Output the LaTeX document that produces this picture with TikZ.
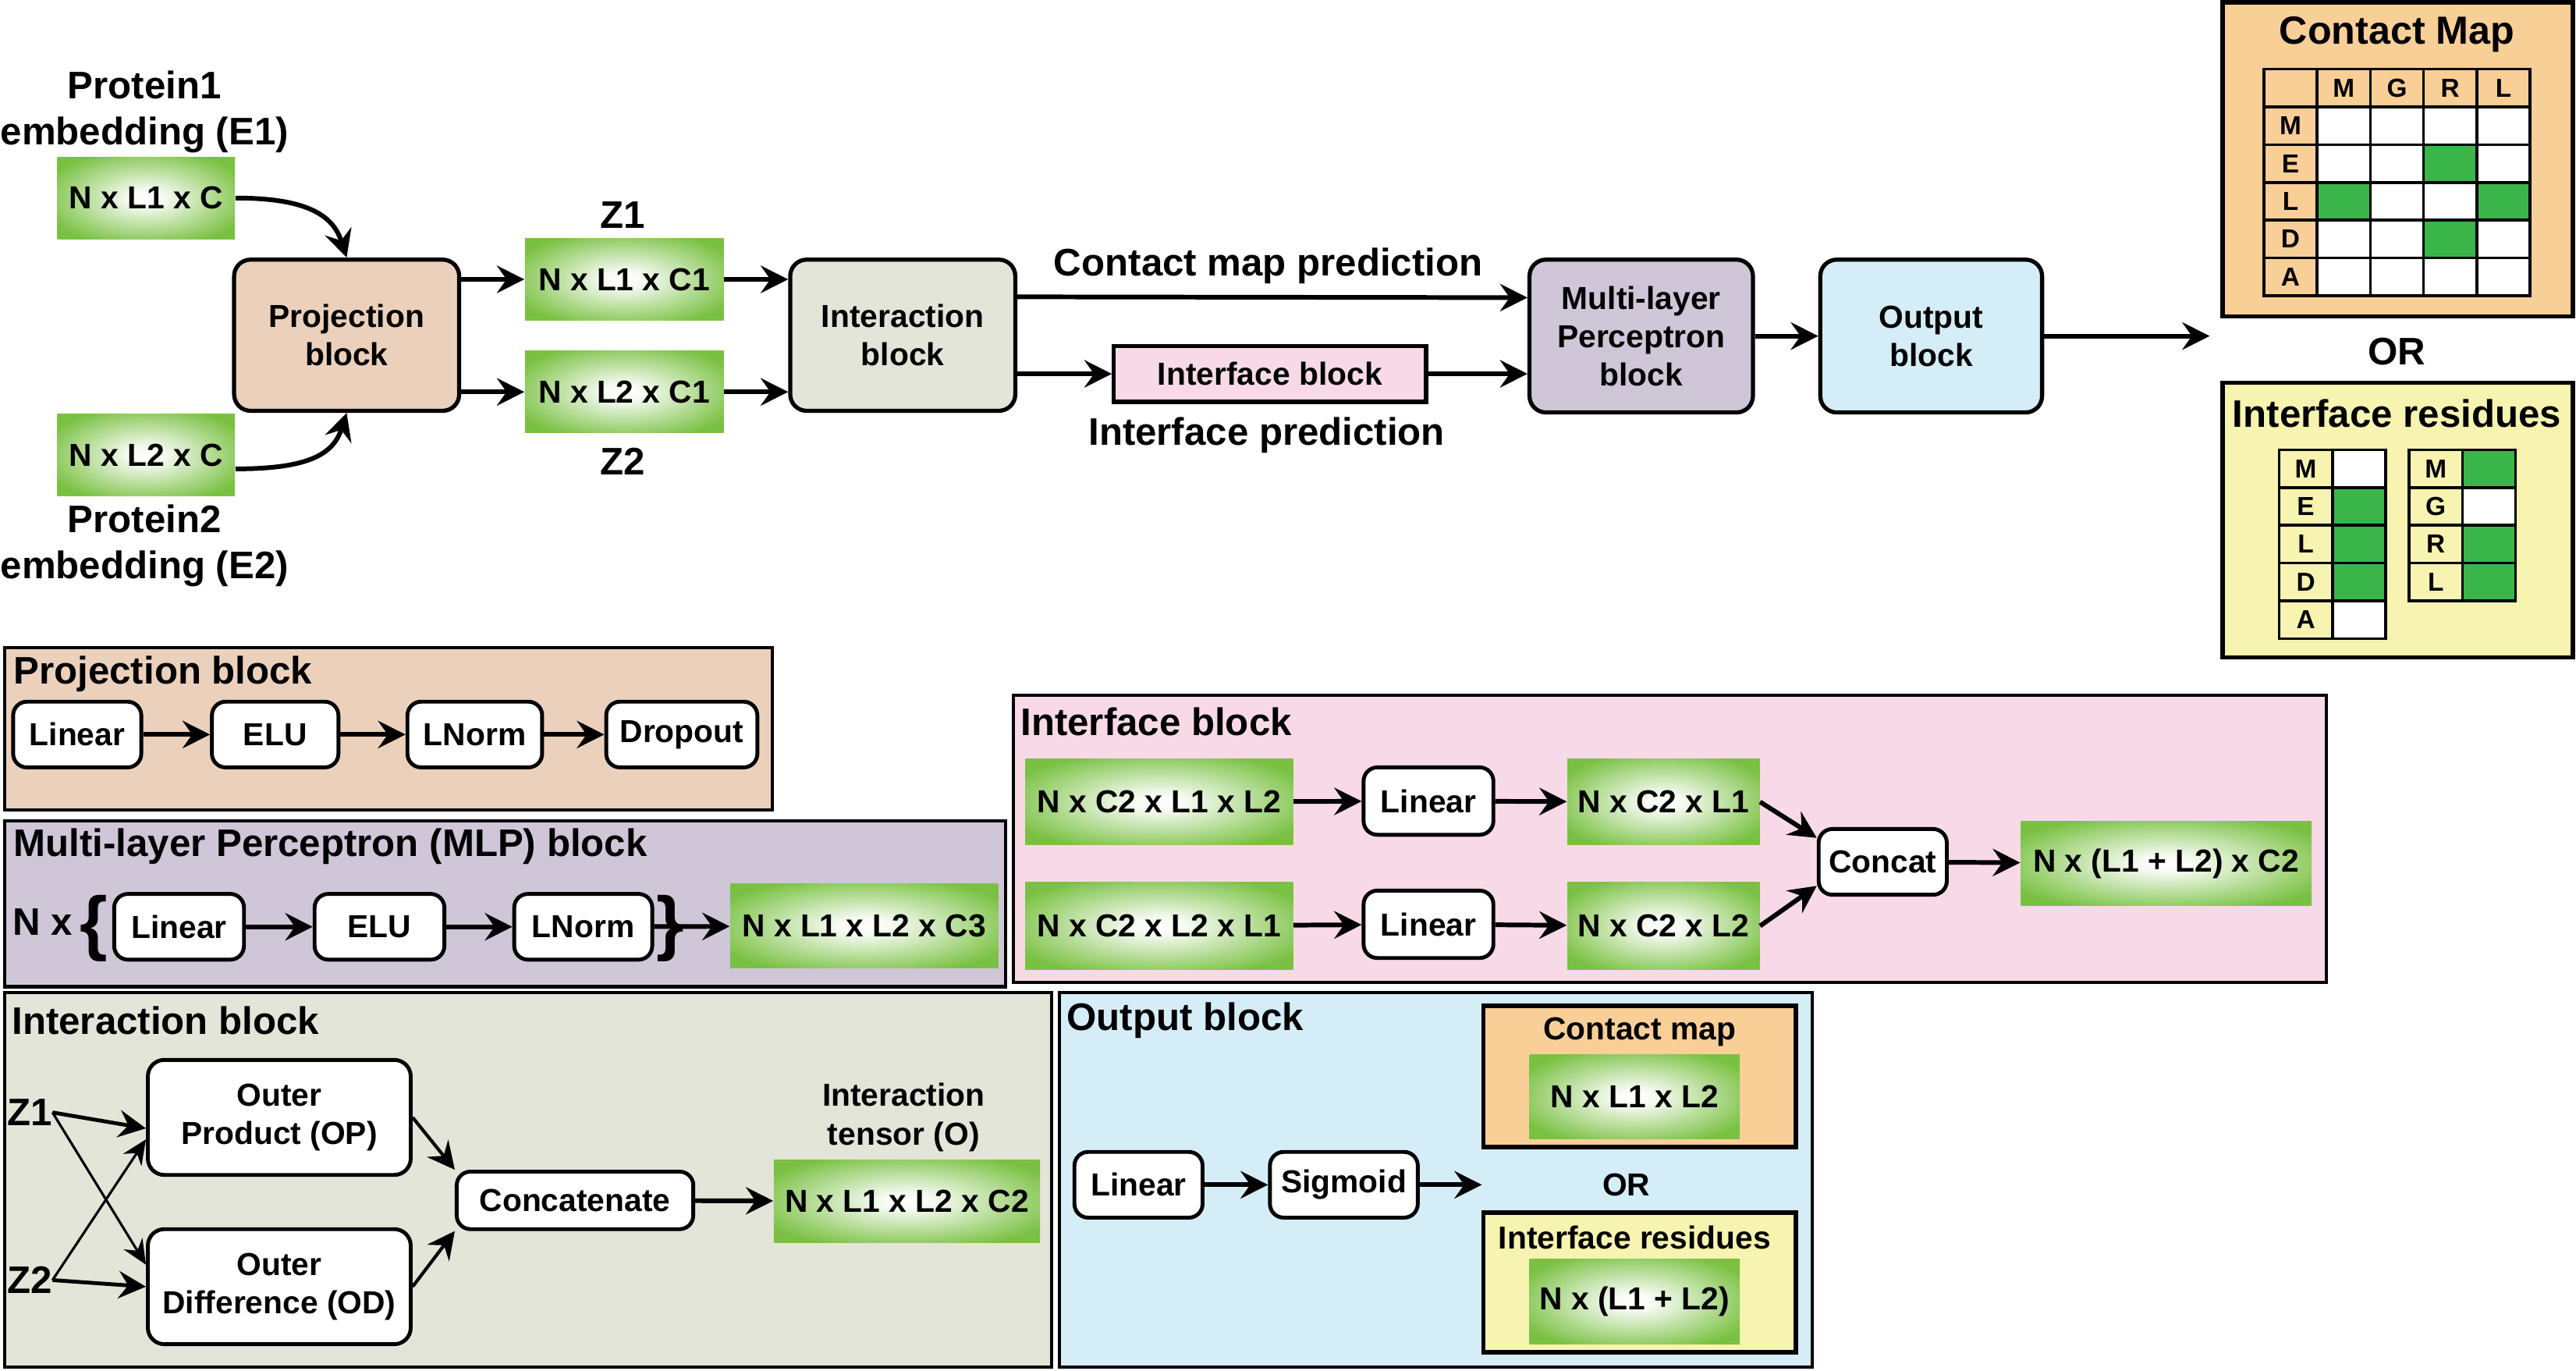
\documentclass[tikz,border=0pt]{standalone}
\usepackage{fontspec}
\setmainfont{Liberation Sans}
\usetikzlibrary{arrows.meta,positioning}

\definecolor{tgreen}{HTML}{7AC143}
\definecolor{cgreen}{HTML}{39B54A}
\definecolor{projc}{HTML}{EBD1BC}
\definecolor{interc}{HTML}{E4E5D9}
\definecolor{ifc}{HTML}{F7D9E8}
\definecolor{mlpc}{HTML}{CFC6D8}
\definecolor{outc}{HTML}{D5EDF7}
\definecolor{mapc}{HTML}{F9CF98}
\definecolor{resc}{HTML}{F7F3B0}
\pgfdeclareradialshading[tgreen]{tensorfill}{\pgfpoint{0bp}{0bp}}{color(0bp)=(white); color(5bp)=(white!93!tgreen); color(30bp)=(tgreen); color(50bp)=(tgreen)}
\newcommand\pxu{0.02106cm}
\newcommand\tabfont{\bfseries\fontsize{9.5}{11}\selectfont}

\begin{document}
\begin{tikzpicture}[x=\pxu,y=-\pxu,
  font=\bfseries\fontsize{11.6}{14}\selectfont,
  sz/.style 2 args={minimum width=#1*\pxu, minimum height=#2*\pxu},
  blk/.style={draw, line width=1.5pt, rounded corners=6pt, align=center, inner sep=0pt},
  opbox/.style={draw, fill=white, line width=1.4pt, rounded corners=5pt, align=center, inner sep=0pt},
  tensor/.style={shading=tensorfill, inner sep=0pt},
  panel/.style={draw, line width=1.2pt, inner sep=0pt},
  outbox/.style={draw, line width=1.6pt, inner sep=0pt},
  lbl/.style={inner sep=0pt, align=center},
  big/.style={lbl, font=\bfseries\fontsize{14}{16.8}\selectfont},
  cell/.style={draw, line width=1pt, inner sep=0pt, outer sep=0pt, sz={32.4}{23}},
  arr/.style={-{Stealth[length=10pt,width=10pt,inset=3.5pt]}, line width=1.7pt},
  xarr/.style={-{Stealth[length=9pt,width=8pt,inset=3pt]}, line width=0.9pt}]
\useasboundingbox (0,0) rectangle (1568,834);

\node[big] (p1) at (88,68) {Protein1\\embedding (E1)};
\node[tensor, sz={108}{50}] (e1) at (89,120.5) {N x L1 x C};
\node[tensor, sz={108}{50}] (e2) at (89,277) {N x L2 x C};
\node[big] (p2) at (88,332) {Protein2\\embedding (E2)};
\node[blk, fill=projc, sz={137}{92}] (proj) at (211,204) {Projection\\block};
\node[tensor, sz={121}{50}] (z1) at (380,170) {N x L1 x C1};
\node[tensor, sz={121}{50}] (z2) at (380,238.5) {N x L2 x C1};
\node[big] (z1l) at (379,131) {Z1};
\node[big] (z2l) at (379,281) {Z2};
\node[blk, fill=interc, sz={137}{92}] (inter) at (549.5,204) {Interaction\\block};
\node[draw, line width=1.5pt, fill=ifc, sz={190}{34}, inner sep=0pt] (ifb) at (773,227.5) {Interface block};
\node[blk, fill=mlpc, sz={136}{93}] (mlp) at (999,204.5) {Multi-layer\\Perceptron\\block};
\node[blk, fill=outc, sz={135}{93}] (outb) at (1175.5,204.5) {Output\\block};
\coordinate (outtip) at (1345,204.5);
\node[big] (cmp) at (772,162) {Contact map prediction};
\node[big] (ifp) at (771,265) {Interface prediction};

\draw[arr] (e1.east) .. controls +(45,0) and +(-8,-25) .. (proj.north);
\draw[arr] ([yshift=-5pt]e2.east) .. controls +(45,0) and +(-8,25) .. (proj.south);
\draw[arr] (proj.east |- z1) -- (z1);
\draw[arr] (proj.east |- z2) -- (z2);
\draw[arr] (z1) -- (z1 -| inter.west);
\draw[arr] (z2) -- (z2 -| inter.west);
\draw[arr] ([yshift=14pt]inter.east) -- ([yshift=14pt]mlp.west);
\draw[arr] (inter.east |- ifb) -- (ifb);
\draw[arr] (ifb) -- (ifb -| mlp.west);
\draw[arr] (mlp) -- (outb);
\draw[arr] (outb) -- (outtip);

\node[outbox, fill=mapc, sz={213}{191}] (cmbox) at (1459.5,97) {};
\node[lbl, font=\bfseries\fontsize{14.3}{16}\selectfont] (cmt) at (1459,21) {Contact Map};
\node[cell, fill=mapc] (cm-0-0) at (1394.2,53.5) {};
\foreach \l [count=\c] in {M,G,R,L}
  \node[cell, fill=mapc, font=\tabfont] (cm-0-\c) at ({1394.2+\c*32.4},53.5) {\l};
\foreach \l/\fa/\fb/\fc/\fd [count=\r] in {M/white/white/white/white, E/white/white/cgreen/white, L/cgreen/white/white/cgreen, D/white/white/cgreen/white, A/white/white/white/white} {
  \node[cell, fill=mapc, font=\tabfont] (cm-\r-0) at (1394.2,{53.5+\r*23}) {\l};
  \node[cell, fill=\fa] (cm-\r-1) at (1426.6,{53.5+\r*23}) {};
  \node[cell, fill=\fb] (cm-\r-2) at (1459,{53.5+\r*23}) {};
  \node[cell, fill=\fc] (cm-\r-3) at (1491.4,{53.5+\r*23}) {};
  \node[cell, fill=\fd] (cm-\r-4) at (1523.8,{53.5+\r*23}) {};
}
\node[big] (or1) at (1459,214) {OR};
\node[outbox, fill=resc, sz={213}{167}] (rsbox) at (1459.5,316.5) {};
\node[big] (rst) at (1459,251.5) {Interface residues};
\foreach \l/\f [count=\r] in {M/white, E/cgreen, L/cgreen, D/cgreen, A/white} {
  \node[cell, fill=resc, font=\tabfont] (ra-\r) at (1403.5,{262.2+\r*23}) {\l};
  \node[cell, fill=\f] (rb-\r) at (1435.9,{262.2+\r*23}) {};
}
\foreach \l/\f [count=\r] in {M/cgreen, G/white, R/cgreen, L/cgreen} {
  \node[cell, fill=resc, font=\tabfont] (rc-\r) at (1482.6,{262.2+\r*23}) {\l};
  \node[cell, fill=\f] (rd-\r) at (1515,{262.2+\r*23}) {};
}

\node[panel, fill=projc, sz={467}{99}] (pp) at (236.5,443.5) {};
\node[big, anchor=west] (ppt) at (8,410) {Projection block};
\node[opbox, sz={78}{40}] (lin1) at (47,447) {Linear};
\node[opbox, sz={77}{40}] (elu1) at (167.5,447) {ELU};
\node[opbox, sz={82}{40}] (ln1) at (289,447) {LNorm};
\node[opbox, sz={92}{40}] (drop) at (415,447) {Dropout};
\draw[arr] (lin1) -- (elu1);
\draw[arr] (elu1) -- (ln1);
\draw[arr] (ln1) -- (drop);

\node[panel, fill=mlpc, sz={609}{101}] (mp) at (307.5,550) {};
\node[big, anchor=west] (mpt) at (8,515) {Multi-layer Perceptron (MLP) block};
\node[big] (nx) at (26,561) {N x};
\node[lbl, font=\bfseries\fontsize{26}{26}\selectfont] (lbr) at (57,565) {\{};
\node[opbox, sz={79}{40}] (lin2) at (109,564) {Linear};
\node[opbox, sz={79}{40}] (elu2) at (231,564) {ELU};
\node[opbox, sz={84}{40}] (ln2) at (355,564) {LNorm};
\node[tensor, sz={163}{51}] (t0) at (526,563.5) {N x L1 x L2 x C3};
\draw[arr] (lin2) -- (elu2);
\draw[arr] (elu2) -- (ln2);
\draw[arr] (ln2) -- (t0);
\node[lbl, font=\bfseries\fontsize{26}{26}\selectfont] (rbr) at (408,565) {\}};

\node[panel, fill=ifc, sz={799}{175}] (ip) at (1016.5,510.5) {};
\node[big, anchor=west] (ipt) at (621,439) {Interface block};
\node[tensor, sz={163}{52}] (t1) at (705.5,488) {N x C2 x L1 x L2};
\node[tensor, sz={163}{53}] (t2) at (705.5,563.5) {N x C2 x L2 x L1};
\node[opbox, sz={79}{41}] (lin3) at (869.5,487.5) {Linear};
\node[opbox, sz={79}{41}] (lin4) at (869.5,562.5) {Linear};
\node[tensor, sz={117}{52}] (t3) at (1012.5,488) {N x C2 x L1};
\node[tensor, sz={117}{53}] (t4) at (1012.5,563.5) {N x C2 x L2};
\node[opbox, sz={78}{40}] (concat) at (1146,524.5) {Concat};
\node[tensor, sz={177}{51}] (t5) at (1318.5,525.5) {N x (L1 + L2) x C2};
\draw[arr] (t1) -- (lin3);
\draw[arr] (lin3) -- (t3);
\draw[arr] (t2) -- (lin4);
\draw[arr] (lin4) -- (t4);
\draw[arr] (t3.east) -- (concat.160);
\draw[arr] (t4.east) -- (concat.200);
\draw[arr] (concat) -- (t5);

\node[panel, fill=interc, sz={637}{228}] (np) at (321.5,718) {};
\node[big, anchor=west] (npt) at (7,621) {Interaction block};
\node[big] (z1i) at (18,677) {Z1};
\node[big] (z2i) at (18,779) {Z2};
\node[opbox, sz={160}{70}, rounded corners=6pt] (opb) at (170,680) {Outer\\Product (OP)};
\node[opbox, sz={160}{70}, rounded corners=6pt] (odb) at (170,783) {Outer\\Difference (OD)};
\node[opbox, sz={144}{35}] (cat) at (350,730.5) {Concatenate};
\node[lbl] (itl) at (550,680) {Interaction\\tensor (O)};
\node[tensor, sz={162}{50}] (t6) at (552,731) {N x L1 x L2 x C2};
\draw[arr, line width=1.4pt] (z1i.east) -- ([yshift=-4pt]opb.west);
\draw[xarr] (z1i.east) -- ([yshift=8pt]odb.west);
\draw[xarr] (z2i.east) -- ([yshift=-8pt]opb.west);
\draw[arr, line width=1.4pt] (z2i.east) -- (odb.west);
\draw[arr, line width=1.2pt] (opb.east) -- (cat.north west);
\draw[arr, line width=1.2pt] (odb.east) -- (cat.south west);
\draw[arr] (cat) -- (t6);

\node[panel, fill=outc, sz={458}{228}] (op) at (874,718) {};
\node[big, anchor=west] (opt) at (649,621) {Output block};
\node[opbox, sz={78}{40}] (lin5) at (693,721) {Linear};
\node[opbox, sz={90}{40}] (sig) at (818,721) {Sigmoid};
\coordinate (sigtip) at (902,721);
\draw[arr] (lin5) -- (sig);
\draw[arr] (sig) -- (sigtip);
\node[outbox, fill=mapc, sz={190}{86}] (cm2) at (998,655) {};
\node[lbl] (cm2t) at (998,628) {Contact map};
\node[tensor, sz={128}{51}] (t7) at (995,667.5) {N x L1 x L2};
\node[lbl] (or2) at (990,721) {OR};
\node[outbox, fill=resc, sz={190}{85}] (rs2) at (998,780.5) {};
\node[lbl] (rs2t) at (995,753) {Interface residues};
\node[tensor, sz={128}{52}] (t8) at (995,792) {N x (L1 + L2)};
\end{tikzpicture}
\end{document}
